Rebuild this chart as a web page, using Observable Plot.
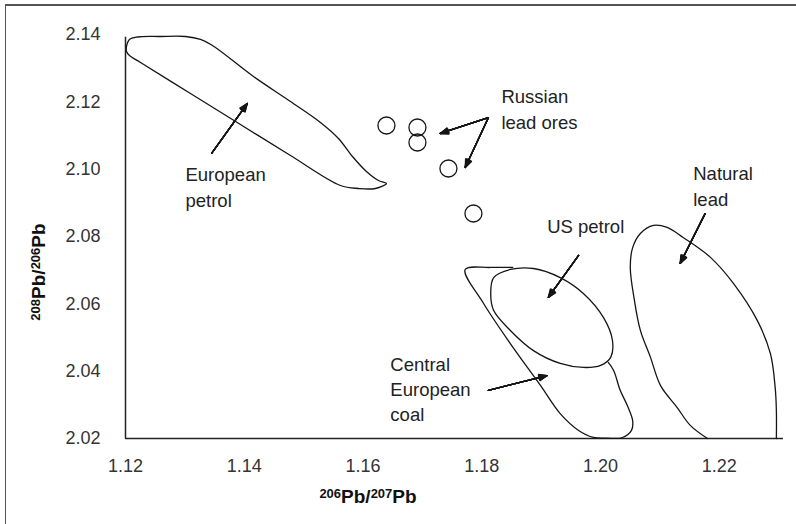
<!DOCTYPE html>
<html><head><meta charset="utf-8">
<script src="https://cdn.jsdelivr.net/npm/d3@7"></script>
<script src="https://cdn.jsdelivr.net/npm/@observablehq/plot@0.6"></script>
<style>
body{margin:0;background:#fff}
#wrap{position:relative;width:796px;height:524px;overflow:hidden;background:#fff}
#frame{position:absolute;left:5px;top:4px;right:-5px;bottom:-5px;border-left:1.5px solid #555;border-top:2px solid #555;pointer-events:none}
</style></head><body>
<div id="wrap"><div id="frame"></div></div>
<script>
// ---- data ----
const xTicks = [1.12, 1.14, 1.16, 1.18, 1.20, 1.22];
const yTicks = [2.02, 2.04, 2.06, 2.08, 2.10, 2.12, 2.14];
const xDomain = [1.12, 1.2308];
const yDomain = [2.02, 2.14];

// European petrol field (closed outline)
const euroPetrolX = [1.12017,1.12067,1.12202,1.12589,1.13010,1.13263,1.13465,1.14155,1.14778,1.15283,1.15586,1.15822,1.16057,1.16259,1.16394,1.16209,1.15923,1.15620,1.14778,1.13936,1.13094,1.12253,1.12067,1.12017];
const euroPetrolY = [2.13644,2.13852,2.13926,2.13941,2.13941,2.13852,2.13673,2.12752,2.12010,2.11386,2.10911,2.10376,2.09931,2.09663,2.09574,2.09426,2.09426,2.09515,2.10406,2.11327,2.12247,2.13168,2.13376,2.13495];

// US petrol field (closed outline)
const usPetrolX = [1.1815,1.1820,1.1848,1.1887,1.1932,1.1971,1.2005,1.2020,1.2017,1.2000,1.1971,1.1932,1.1887,1.1848,1.1820];
const usPetrolY = [2.0631,2.0678,2.0702,2.0705,2.0678,2.0631,2.0559,2.0491,2.0441,2.0417,2.0411,2.0423,2.0461,2.0521,2.0580];

// Central European coal field (open outline, joins the US petrol ellipse)
const coalX = [1.2013,1.2022,1.2033,1.2045,1.2054,1.2052,1.2037,1.2011,1.1988,1.1963,1.1932,1.1899,1.1848,1.1803,1.1772,1.1814,1.1852];
const coalY = [2.0426,2.0402,2.0343,2.0298,2.0253,2.0224,2.0203,2.0201,2.0203,2.0224,2.0274,2.0357,2.0482,2.0601,2.0702,2.0708,2.0708];

// Natural lead field (open outline, sits on the x axis)
const naturalX = [1.2180,1.2151,1.2129,1.2101,1.2084,1.2067,1.2057,1.2050,1.2054,1.2067,1.2089,1.2112,1.2139,1.2185,1.2224,1.2264,1.2286,1.2294,1.2296,1.2296];
const naturalY = [2.0200,2.0239,2.0292,2.0357,2.0441,2.0521,2.0610,2.0708,2.0767,2.0809,2.0833,2.0827,2.0797,2.0738,2.0660,2.0550,2.0452,2.0351,2.0283,2.0200];

// Russian lead ores (points)
const russianX = [1.16394,1.16916,1.16916,1.17438,1.17859];
const russianY = [2.11297,2.11238,2.10792,2.10020,2.08683];

// Annotation labels
const labelText = ["European\npetrol","Russian\nlead ores","US petrol","Natural\nlead","Central\nEuropean\ncoal"];
const labelX = [1.1301,1.1833,1.1910,1.2156,1.1646];
const labelY = [2.0950,2.1182,2.0833,2.0953,2.0351];

// Arrows (tail -> head)
const arrowX1 = [1.1345,1.1811,1.1811,1.1963,1.2176,1.1811];
const arrowY1 = [2.1047,2.1153,2.1153,2.0744,2.0868,2.0343];
const arrowX2 = [1.1405,1.1730,1.1772,1.1912,1.2134,1.1910];
const arrowY2 = [2.1195,2.1106,2.1005,2.0619,2.0720,2.0387];

const xTitle = ["206","Pb/","207","Pb"];
const yTitle = ["208","Pb/","206","Pb"];

// ---- build ----
const zip = (xs, ys) => xs.map((x, i) => ({x, y: ys[i]}));
const euro = zip(euroPetrolX, euroPetrolY);
const us = zip(usPetrolX, usPetrolY);
const coal = zip(coalX, coalY);
const natural = zip(naturalX, naturalY);
const russian = zip(russianX, russianY);
const labels = labelText.map((t, i) => ({t, x: labelX[i], y: labelY[i]}));
const arrows = arrowX1.map((x1, i) => ({x1, y1: arrowY1[i], x2: arrowX2[i], y2: arrowY2[i]}));

const FONT = "'Liberation Sans', Arial, Helvetica, sans-serif";
const INK = "#151515";
const headAngles = [44, 37, 30, 23, 16, 9, 2];

const chart = Plot.plot({
  width: 796, height: 524,
  marginLeft: 125, marginRight: 13, marginTop: 34, marginBottom: 86,
  style: {fontFamily: FONT, fontSize: "18px", color: "#333", background: "transparent", overflow: "visible"},
  x: {domain: xDomain, ticks: xTicks, tickSize: 0, tickPadding: 21, tickFormat: d => d.toFixed(2), label: null},
  y: {domain: yDomain, ticks: yTicks, tickSize: 0, tickPadding: 25, tickFormat: d => d.toFixed(2), label: null},
  marks: [
    Plot.ruleY([yDomain[0]], {stroke: "#222", strokeWidth: 1.5}),
    Plot.ruleX([xDomain[0]], {y1: yDomain[0], y2: 2.1392, stroke: "#222", strokeWidth: 1.5}),
    Plot.line(euro, {x: "x", y: "y", curve: "catmull-rom-closed", stroke: INK, strokeWidth: 1.3}),
    Plot.line(coal, {x: "x", y: "y", curve: "catmull-rom", stroke: INK, strokeWidth: 1.3}),
    Plot.line(us, {x: "x", y: "y", curve: "catmull-rom-closed", stroke: INK, strokeWidth: 1.3}),
    Plot.line(natural, {x: "x", y: "y", curve: "catmull-rom", stroke: INK, strokeWidth: 1.3}),
    Plot.dot(russian, {x: "x", y: "y", r: 8.5, stroke: INK, strokeWidth: 1.3, fill: "none"}),
    ...headAngles.map(a => Plot.arrow(arrows, {x1: "x1", y1: "y1", x2: "x2", y2: "y2", headAngle: a, headLength: 10, stroke: INK, strokeWidth: 1.3})),
    Plot.text(labels, {x: "x", y: "y", text: "t", textAnchor: "start", lineAnchor: "middle", lineHeight: 1.36, fontSize: 18.5, fill: "#222", fontFamily: FONT})
  ]
});
document.getElementById("wrap").prepend(chart);

// axis titles with superscripts
const svg = d3.select(chart);
function addTitle(parts, transform) {
  const t = svg.append("text")
    .attr("transform", transform)
    .attr("font-family", FONT).attr("font-weight", "bold").attr("fill", "#111");
  parts.forEach((p, i) => {
    const sup = i % 2 === 0;
    t.append("tspan").attr("font-size", sup ? 13 : 19).attr("dy", sup ? (i === 0 ? -5 : -5) : 5).text(p);
  });
}
addTitle(xTitle, "translate(368,503)");
addTitle(yTitle, "translate(45,272) rotate(-90)");
</script>
</body></html>
